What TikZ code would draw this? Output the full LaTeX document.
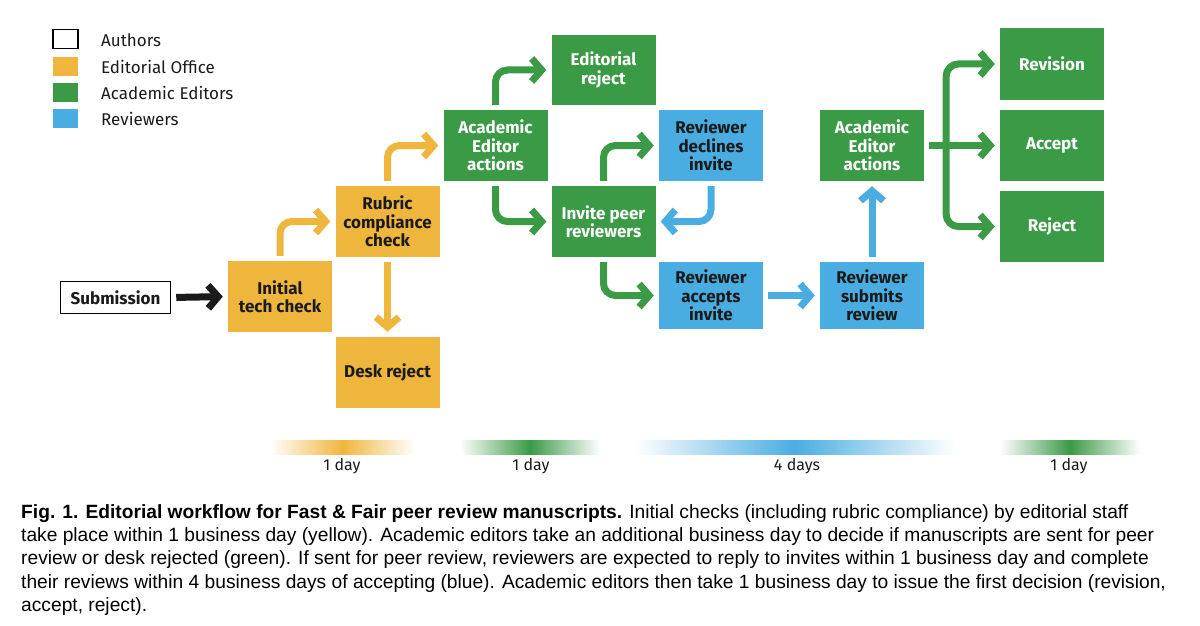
\documentclass[tikz,border=0pt]{standalone}
\usepackage{fontspec}
\setmainfont{Fira Sans}
\newfontfamily\capfont{Liberation Sans}
\usetikzlibrary{arrows.meta,calc}
\definecolor{yel}{HTML}{EFB63D}
\definecolor{grn}{HTML}{3B9A46}
\definecolor{blu}{HTML}{4AADE2}
\definecolor{dtxt}{HTML}{1A1A1A}
\tikzset{
  box/.style={minimum width=104pt,minimum height=71pt,inner sep=2pt,align=center,
    font=\fontsize{17}{18.5}\selectfont\bfseries},
  ybox/.style={box,fill=yel,text=dtxt},
  gbox/.style={box,fill=grn,text=white},
  bbox/.style={box,fill=blu,text=dtxt},
  flow/.style={line width=7pt,rounded corners=12pt,shorten <=5pt,shorten >=5pt,
    -{Straight Barb[length=10pt,width=23pt]}},
  legsq/.style={minimum width=25pt,minimum height=19pt,inner sep=0pt},
  legtxt/.style={anchor=west,inner sep=0pt,font=\fontsize{17}{19}\selectfont,text=dtxt},
  daytxt/.style={font=\fontsize{16}{18}\selectfont,text=dtxt},
}
\begin{document}
\begin{tikzpicture}[x=1pt,y=-1pt]
\useasboundingbox (0,0) rectangle (1200,626);
% legend
\node[legsq,draw=black,line width=1.3pt] (la) at (65.5,39) {};
\node[legsq,fill=yel] (le) at (65.5,67) {};
\node[legsq,fill=grn] (lg) at (65.5,92.5) {};
\node[legsq,fill=blu] (lb) at (65.5,118.5) {};
\node[legtxt] (ta) at (101,40) {Authors};
\node[legtxt] (te) at (101,67) {Editorial Office};
\node[legtxt] (tg) at (101,92.5) {Academic Editors};
\node[legtxt] (tb) at (101,118.5) {Reviewers};
% boxes
\node[box,draw=black,line width=1.5pt,minimum width=110pt,minimum height=32pt,text=dtxt] (sub) at (115.5,297.5) {Submission};
\node[ybox] (init) at (280,296.5) {Initial\\tech check};
\node[ybox] (rub) at (387.5,221.5) {Rubric\\compliance\\check};
\node[ybox] (desk) at (387.5,372.5) {Desk reject};
\node[gbox] (aea) at (495.5,145.5) {Academic\\Editor\\actions};
\node[gbox,minimum height=70pt] (edrej) at (603.5,70) {Editorial\\reject};
\node[gbox] (inv) at (603.5,221.5) {Invite peer\\reviewers};
\node[bbox] (dec) at (711,145.5) {Reviewer\\declines\\invite};
\node[bbox,minimum height=67pt] (acc) at (711,295.5) {Reviewer\\accepts\\invite};
\node[bbox,minimum height=67pt] (subm) at (872,295.5) {Reviewer\\submits\\review};
\node[gbox] (aeb) at (872,145.5) {Academic\\Editor\\actions};
\node[gbox,minimum height=72pt] (rev) at (1052,64) {Revision};
\node[gbox] (acpt) at (1052,145.5) {Accept};
\node[gbox] (rej) at (1052,226.5) {Reject};
% connectors
\draw[flow,draw=dtxt] (sub.east) -- (init.west);
\draw[flow,draw=yel] (init.north) |- (rub.west);
\draw[flow,draw=yel] (rub.north) |- (aea.west);
\draw[flow,draw=yel] (rub.south) -- (desk.north);
\draw[flow,draw=grn] (aea.north) |- (edrej.west);
\draw[flow,draw=grn] (aea.south) |- (inv.west);
\draw[flow,draw=grn] (inv.north) |- (dec.west);
\draw[flow,draw=blu] (dec.south) |- (inv.east);
\draw[flow,draw=grn] (inv.south) |- (acc.west);
\draw[flow,draw=blu] (acc.east) -- (subm.west);
\draw[flow,draw=blu] (subm.north) -- (aeb.south);
\coordinate (hub) at ($(aeb.east)+(22,0)$);
\draw[flow,draw=grn] (aeb.east) -- (acpt.west);
\draw[flow,draw=grn,shorten <=0pt] (hub) |- (rev.west);
\draw[flow,draw=grn,shorten <=0pt] (hub) |- (rej.west);
% day bars
\shade[left color=white,right color=white,middle color=yel] (270,440) rectangle (415,454);
\shade[left color=white,right color=white,middle color=grn] (460,440) rectangle (600,454);
\shade[left color=white,right color=white,middle color=blu] (635,440) rectangle (955,454);
\shade[left color=white,right color=white,middle color=grn] (1000,440) rectangle (1140,454);
\node[daytxt] (d1) at (342,466) {1 day};
\node[daytxt] (d2) at (531,466) {1 day};
\node[daytxt] (d3) at (797,466) {4 days};
\node[daytxt] (d4) at (1069,466) {1 day};
% caption
\node[anchor=north west,inner sep=0pt,align=left,text=black,
  font=\capfont\fontsize{19.2}{23.3}\selectfont] (cap) at (21,504)
{\textbf{Fig. 1. Editorial workflow for Fast \& Fair peer review manuscripts.} Initial checks (including rubric compliance) by editorial staff\\
take place within 1 business day (yellow). Academic editors take an additional business day to decide if manuscripts are sent for peer\\
review or desk rejected (green). If sent for peer review, reviewers are expected to reply to invites within 1 business day and complete\\
their reviews within 4 business days of accepting (blue). Academic editors then take 1 business day to issue the first decision (revision,\\
accept, reject).};
\end{tikzpicture}
\end{document}
